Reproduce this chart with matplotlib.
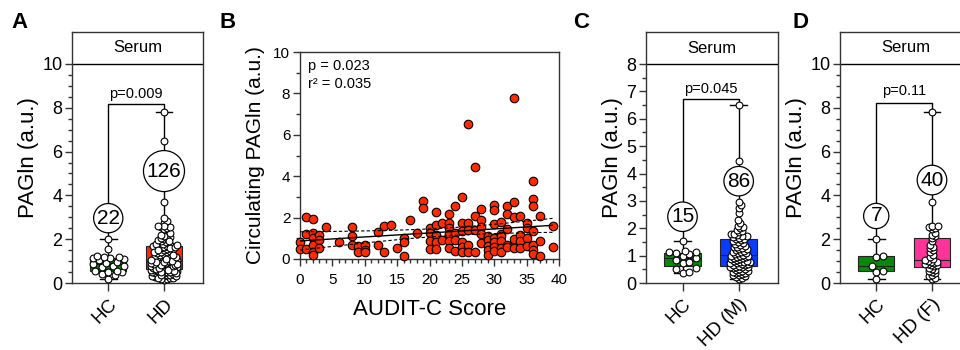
import numpy as np
import matplotlib
matplotlib.use("Agg")
import matplotlib.pyplot as plt

plt.rcParams['font.family'] = ['Liberation Sans', 'DejaVu Sans']

# ---- data ----
# healthy controls, split by sex (C: male, D: female)
hc_m = [0.35, 0.42, 0.5, 0.55, 0.72, 0.78, 0.85, 0.9, 0.98, 1.05, 1.1, 1.12, 1.15, 1.18, 1.55]
hc_f = [0.2, 0.52, 0.55, 0.78, 1.2, 1.25, 2.0]

# heavy drinkers, male
hd_m = [0.15, 0.2, 0.22, 0.25, 0.28, 0.3, 0.32, 0.35, 0.38, 0.4, 0.42, 0.45, 0.45, 0.48,
        0.5, 0.52, 0.55, 0.57, 0.58, 0.6, 0.6,
        0.63, 0.65, 0.66, 0.68, 0.7, 0.72, 0.73, 0.75, 0.77, 0.78, 0.8, 0.82, 0.84, 0.86,
        0.88, 0.9, 0.92, 0.94, 0.95, 0.97, 0.98, 1.0,
        1.02, 1.05, 1.08, 1.1, 1.12, 1.15, 1.18, 1.2, 1.23, 1.25, 1.28, 1.3, 1.33, 1.36,
        1.4, 1.43, 1.46, 1.5, 1.53, 1.56, 1.6,
        1.62, 1.65, 1.68, 1.7, 1.72, 1.75, 1.78, 1.8, 1.85, 1.9, 1.95, 2.0, 2.05, 2.1,
        2.2, 2.3, 2.55, 2.75, 2.85, 2.95, 4.45, 6.5]

# heavy drinkers, female
hd_f = [0.2, 0.22, 0.3, 0.35, 0.45, 0.5, 0.55, 0.6, 0.65, 0.7,
        0.76, 0.8, 0.82, 0.85, 0.88, 0.9, 0.95, 0.98, 1.0, 1.03,
        1.1, 1.2, 1.3, 1.4, 1.5, 1.6, 1.65, 1.75, 1.9, 2.05,
        2.15, 2.2, 2.3, 2.45, 2.5, 2.55, 2.6, 2.6, 3.7, 7.8]

hc_all = hc_m + hc_f
hd_all = hd_m + hd_f

# panel B: AUDIT-C score vs circulating PAGln
audit_x = [0, 0,
           1, 1, 1,
           2, 2, 2, 2, 2, 2,
           3, 3, 3,
           4, 6,
           8, 8, 8,
           9, 9,
           10, 10, 10,
           12, 12,
           13, 13,
           14, 15,
           16, 16, 16,
           17, 18,
           19, 19,
           20, 20, 20, 20,
           21, 21, 21, 21, 21,
           22, 22,
           23, 23, 23, 23, 23, 23,
           24, 24, 24, 24,
           25, 25, 25, 25, 25, 25,
           26, 26, 26, 26, 26,
           27, 27, 27, 27,
           28, 28, 28, 28, 28,
           29, 29, 29, 29, 29,
           30, 30, 30, 30, 30, 30, 30,
           31, 31, 31, 31, 31, 31,
           32, 32, 32, 32, 32,
           33, 33, 33, 33, 33,
           34, 34, 34, 34,
           35, 35, 35, 35,
           36, 36, 36, 36, 36, 36, 36,
           37, 37, 37,
           39, 39]
pagln_b = [0.8, 0.5,
           2.05, 1.2, 0.5,
           1.95, 1.25, 1.0, 0.7, 0.35, 0.18,
           1.15, 0.9, 0.55,
           1.55, 0.8,
           1.55, 1.1, 0.7,
           0.65, 0.35,
           0.7, 0.45, 0.35,
           1.3, 0.7,
           1.6, 0.35,
           1.65, 0.55,
           1.0, 0.8, 0.15,
           1.9, 1.25,
           2.8, 2.45,
           1.5, 1.25, 0.85, 0.5,
           2.25, 1.65, 1.15, 0.8, 0.5,
           1.75, 0.9,
           2.15, 1.75, 1.5, 1.2, 0.85, 0.55,
           2.55, 1.25, 0.9, 0.4,
           3.0, 1.75, 1.35, 0.8, 0.6, 0.35,
           6.5, 1.75, 1.4, 0.7, 0.35,
           4.45, 2.1, 1.4, 0.35,
           2.4, 1.9, 1.55, 1.2, 0.75,
           1.1, 0.9, 0.65, 0.45, 0.2,
           2.6, 2.35, 1.7, 1.0, 0.8, 0.6, 0.4,
           1.8, 1.2, 1.1, 0.85, 0.55, 0.35,
           2.55, 2.15, 1.45, 0.7, 0.6,
           7.8, 2.75, 2.05, 0.95, 0.55,
           2.1, 1.15, 0.85, 0.55,
           1.75, 1.5, 1.0, 0.65,
           3.75, 2.9, 2.55, 1.35, 0.7, 0.45, 0.25,
           2.1, 0.85, 0.15,
           1.6, 0.6]

GREEN = '#078a07'
RED = '#ff2a00'
BLUE = '#0a3cff'
PINK = '#ff3399'
AXC = '#333333'

W, H = 960, 350
fig = plt.figure(figsize=(W / 100, H / 100), dpi=100)


def add_ax(x0, y0, x1, y1):
    return fig.add_axes([x0 / W, 1 - y1 / H, (x1 - x0) / W, (y1 - y0) / H])


def style(ax):
    for s in ax.spines.values():
        s.set_color(AXC)
        s.set_linewidth(1)
    ax.tick_params(which='both', color=AXC, width=1, direction='out')
    ax.tick_params(which='major', length=5)
    ax.tick_params(which='minor', length=3)


def swarm(ax, xpos, vals, diam=7.0):
    # simple beeswarm in pixel space, overlapping allowed when crowded
    vals = np.asarray(vals, float)
    if len(vals) < 30:
        frac, half = 0.95, 16.0
    else:
        frac, half = 0.42, 13.0
    pts = ax.transData.transform(np.column_stack([np.full(len(vals), xpos), vals]))
    ys = pts[:, 1]
    sx = ax.transData.transform([(1, 0)])[0, 0] - ax.transData.transform([(0, 0)])[0, 0]
    d = diam * frac
    step = d / 3
    px, py = [], []
    off = np.zeros(len(vals))
    for i in np.argsort(ys, kind='stable'):
        y = ys[i]
        ax_ = np.array(px)
        ay_ = np.array(py)
        near = np.abs(ay_ - y) < d if len(py) else np.zeros(0, bool)
        best, best_gap = 0.0, -1.0
        k = 0
        found = False
        while k * step <= half and not found:
            cands = [0.0] if k == 0 else [k * step, -k * step]
            for c in cands:
                gap = np.min(np.hypot(ax_[near] - c, ay_[near] - y)) if near.any() else np.inf
                if gap >= d:
                    best, found = c, True
                    break
                if gap > best_gap:
                    best, best_gap = c, gap
            k += 1
        px.append(best)
        py.append(y)
        off[i] = best
    ax.scatter(xpos + off / sx, vals, s=24, facecolor='white', edgecolor='black',
               linewidth=0.8, zorder=4, clip_on=False)


def box_panel(ax, groups, labels, colors, ymax, ytop, major, counts, count_y,
              bracket_y, ptext, ptext_y):
    style(ax)
    ax.set_xlim(-0.65, 1.7)
    ax.set_ylim(0, ytop)
    bp = ax.boxplot(groups, positions=[0, 1], widths=0.65, whis=(0, 100),
                    patch_artist=True, showfliers=False, capwidths=0.3,
                    boxprops=dict(edgecolor='#222222', linewidth=0.8),
                    medianprops=dict(color='#222222', linewidth=0.8),
                    whiskerprops=dict(color='black', linewidth=1),
                    capprops=dict(color='black', linewidth=1))
    for patch, c in zip(bp['boxes'], colors):
        patch.set_facecolor(c)
    for i, g in enumerate(groups):
        swarm(ax, i, g)
    # header strip
    ax.axhline(ymax, color='black', lw=1)
    ax.text(0.525, (ymax + ytop) / 2, 'Serum', ha='center', va='center', fontsize=12)
    ax.set_yticks(np.arange(0, ymax + 0.01, major))
    ax.set_yticks(np.arange(0, ymax + 0.01, 0.5), minor=True)
    ax.tick_params(axis='y', labelsize=13, pad=2)
    ax.set_xticks([0, 1])
    ax.set_xticklabels(labels, rotation=45, ha='right', rotation_mode='anchor', fontsize=13.5)
    ax.tick_params(axis='x', length=6, pad=3)
    ax.set_ylabel('PAGln (a.u.)', fontsize=16, labelpad=2)
    # n counts
    for i, (n, cy) in enumerate(zip(counts, count_y)):
        ax.text(i, cy, str(n), ha='center', va='center', fontsize=15, zorder=6,
                bbox=dict(boxstyle='circle,pad=0.15', fc='white', ec='black', lw=0.9))
    # significance bracket
    ax.plot([0, 0, 1, 1], [max(groups[0]), bracket_y, bracket_y, max(groups[1])],
            color='black', lw=1, zorder=1.5)
    ax.text(0.5, ptext_y, ptext, ha='center', va='center', fontsize=10.5)


# ---- panel A ----
axA = add_ax(72, 32, 203, 283)
box_panel(axA, [hc_all, hd_all], ['HC', 'HD'], [GREEN, RED], 10, 11.46, 2,
          [22, 126], [2.96, 5.11], 8.17, 'p=0.009', 8.63)

# ---- panel B ----
axB = add_ax(300, 52, 559, 259)
style(axB)
axB.set_xlim(0, 40)
axB.set_ylim(0, 10)
xb = np.asarray(audit_x, float)
yb = np.asarray(pagln_b, float)
axB.scatter(xb, yb, s=38, facecolor=RED, edgecolor='black', linewidth=0.8,
            zorder=3, clip_on=False)
# linear fit with 95% confidence band
slope, icpt = np.polyfit(xb, yb, 1)
n = len(xb)
resid = yb - (slope * xb + icpt)
s_err = np.sqrt(np.sum(resid ** 2) / (n - 2))
sxx = np.sum((xb - xb.mean()) ** 2)
xf = np.linspace(xb.min(), xb.max(), 100)
yf = slope * xf + icpt
ci = 1.979 * s_err * np.sqrt(1 / n + (xf - xb.mean()) ** 2 / sxx)
axB.plot(xf, yf, color='black', lw=1, zorder=4)
axB.plot(xf, yf + ci, color='black', lw=0.8, dashes=(3, 2), zorder=4)
axB.plot(xf, yf - ci, color='black', lw=0.8, dashes=(3, 2), zorder=4)
axB.set_xticks(np.arange(0, 41, 5))
axB.set_xticks(np.arange(0, 41, 1), minor=True)
axB.set_yticks(np.arange(0, 11, 2))
axB.set_yticks(np.arange(0, 11, 1), minor=True)
axB.tick_params(labelsize=11, pad=2)
axB.tick_params(axis='x', pad=5)
axB.set_xlabel('AUDIT-C Score', fontsize=16, labelpad=9)
axB.set_ylabel('Circulating PAGln (a.u.)', fontsize=15, labelpad=6)
axB.text(0.03, 0.965, 'p = 0.023\nr² = 0.035', transform=axB.transAxes,
         ha='left', va='top', fontsize=10.5, linespacing=1.3)

# ---- panel C ----
axC = add_ax(646, 32, 778, 283)
box_panel(axC, [hc_m, hd_m], ['HC', 'HD (M)'], [GREEN, BLUE], 8, 9.17, 1,
          [15, 86], [2.42, 3.72], 6.72, 'p=0.045', 7.07)

# ---- panel D ----
axD = add_ax(840, 32, 971, 283)
box_panel(axD, [hc_f, hd_f], ['HC', 'HD (F)'], [GREEN, PINK], 10, 11.46, 2,
          [7, 40], [3.06, 4.7], 8.2, 'p=0.11', 8.77)

# panel letters
for lab, xp in [('A', 20), ('B', 228), ('C', 581), ('D', 801)]:
    fig.text(xp / W, 1 - 22 / H, lab, fontsize=16, fontweight='bold', ha='center', va='center')

fig.savefig('out.png', dpi=100)
